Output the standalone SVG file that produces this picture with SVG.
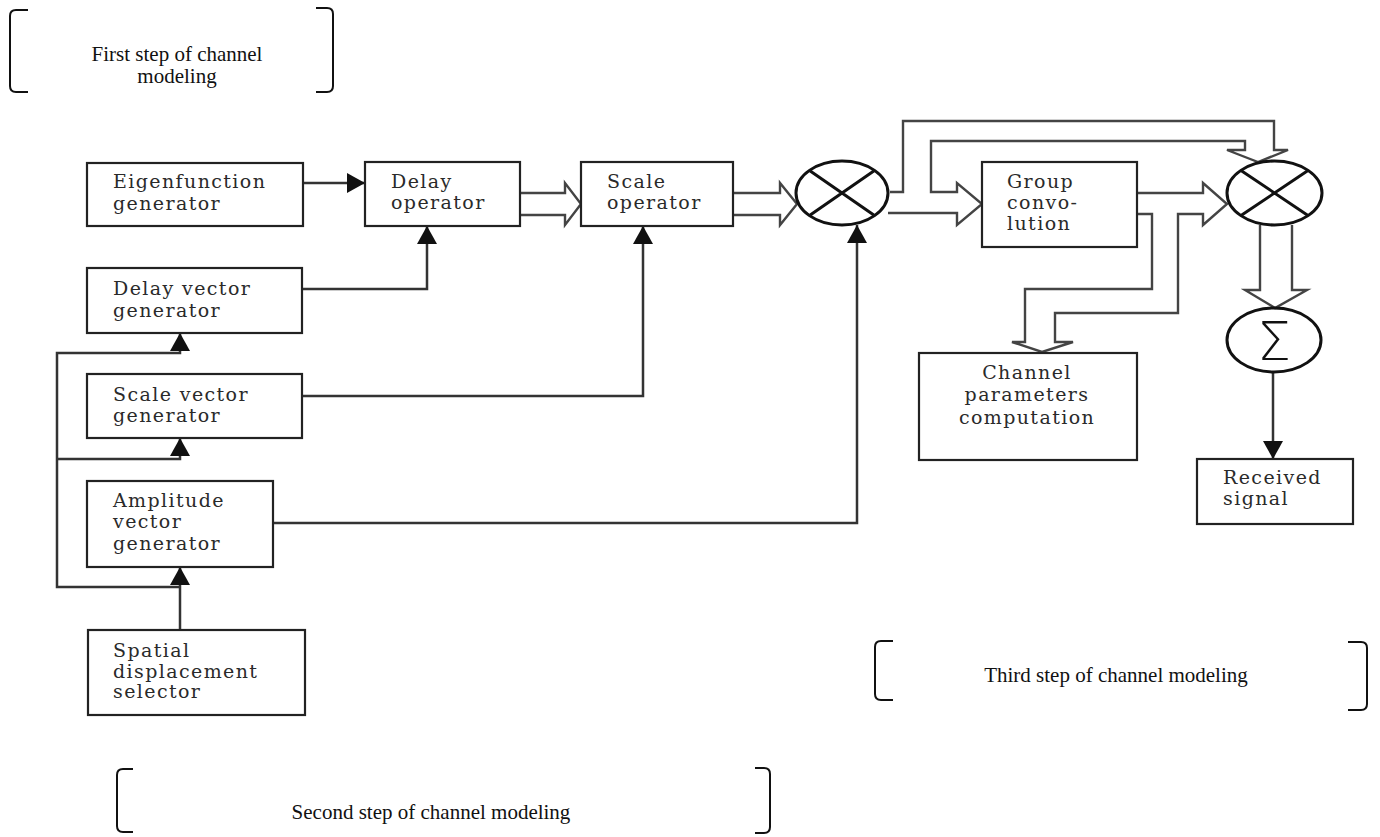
<svg xmlns="http://www.w3.org/2000/svg" width="1380" height="837" viewBox="0 0 1380 837">
<style>
.box{fill:#fff;stroke:#222;stroke-width:2.2}
.lbl{font-family:"DejaVu Serif",serif;font-size:19px;letter-spacing:1.4px;fill:#2a2a2a}
.cap{font-family:"Liberation Serif","Times New Roman",serif;font-size:21px;fill:#111}
.line{fill:none;stroke:#333;stroke-width:2.5}
.hollow{fill:none;stroke:#444;stroke-width:2.4;stroke-linejoin:miter}
.op{fill:none;stroke:#111;stroke-width:3}
.brk{fill:none;stroke:#111;stroke-width:2}
</style>
<defs>
<marker id="ah" viewBox="0 0 18 20" refX="18" refY="10" markerWidth="18" markerHeight="20" markerUnits="userSpaceOnUse" orient="auto">
<path d="M0,0 L18,10 L0,20 z" fill="#111"/>
</marker>
</defs>

<g id="brackets">
<g id="step1">
<path class="brk" d="M28,10 H16 Q10,10 10,16 V86 Q10,92 16,92 H28"/>
<path class="brk" d="M316,8 H327 Q333,8 333,14 V86 Q333,92 327,92 H316"/>
<text class="cap" x="177" y="61" text-anchor="middle">First step of channel</text>
<text class="cap" x="177" y="83" text-anchor="middle">modeling</text>
</g>
<g id="step2">
<path class="brk" d="M133,769 H123 Q117,769 117,775 V826 Q117,832 123,832 H133"/>
<path class="brk" d="M755,768 H764 Q770,768 770,774 V827 Q770,833 764,833 H755"/>
<text class="cap" x="431" y="819" text-anchor="middle">Second step of channel modeling</text>
</g>
<g id="step3">
<path class="brk" d="M893,641 H881 Q875,641 875,647 V694 Q875,700 881,700 H893"/>
<path class="brk" d="M1348,642 H1361 Q1367,642 1367,648 V704 Q1367,710 1361,710 H1348"/>
<text class="cap" x="1116" y="682" text-anchor="middle">Third step of channel modeling</text>
</g>
</g>

<g id="connectors">
<path class="line" d="M303,183 H365" marker-end="url(#ah)"/>
<path class="line" d="M302,289 H427 V226" marker-end="url(#ah)"/>
<path class="line" d="M302,396 H643 V226" marker-end="url(#ah)"/>
<path class="line" d="M273,523 H857 V225" marker-end="url(#ah)"/>
<path class="line" d="M180,630 V567" marker-end="url(#ah)"/>
<path class="line" d="M180,587 H57 V353 H180 V333" marker-end="url(#ah)"/>
<path class="line" d="M57,459 H180 V438" marker-end="url(#ah)"/>
<path class="line" d="M1273,372 V459" marker-end="url(#ah)"/>
<path class="hollow" d="M520,193 H565 V183 L581,204 L565,225 V215 H520"/>
<path class="hollow" d="M733,193 H780 V183 L797,204 L780,225 V215 H733"/>
<path class="hollow" d="M888,213 H957 V225 L982,204 L957,183 V192 H931 V141 H1245 V150 H1227 L1258,162 L1288,150 H1274 V121 H903 V192 H890"/>
<path class="hollow" d="M1137,193 H1203 V183 L1227,204 L1203,225 V214 H1178 V313 H1055 V342 H1073 L1042,352 L1012,342 H1025 V289 H1152 V214 H1137"/>
<path class="hollow" d="M1260,225 V290 H1245 L1275,308 L1307,290 H1292 V225"/>
</g>

<g id="eigen">
<rect class="box" x="87" y="163" width="216" height="63"/>
<text class="lbl" x="113" y="188">Eigenfunction</text>
<text class="lbl" x="113" y="210">generator</text>
</g>
<g id="delayop">
<rect class="box" x="365" y="162" width="155" height="64"/>
<text class="lbl" x="391" y="188">Delay</text>
<text class="lbl" x="391" y="209">operator</text>
</g>
<g id="scaleop">
<rect class="box" x="581" y="162" width="152" height="64"/>
<text class="lbl" x="607" y="188">Scale</text>
<text class="lbl" x="607" y="209">operator</text>
</g>
<g id="delayvec">
<rect class="box" x="87" y="268" width="215" height="65"/>
<text class="lbl" x="113" y="295">Delay vector</text>
<text class="lbl" x="113" y="317">generator</text>
</g>
<g id="scalevec">
<rect class="box" x="87" y="374" width="215" height="64"/>
<text class="lbl" x="113" y="401">Scale vector</text>
<text class="lbl" x="113" y="422">generator</text>
</g>
<g id="ampvec">
<rect class="box" x="87" y="481" width="186" height="86"/>
<text class="lbl" x="113" y="507">Amplitude</text>
<text class="lbl" x="113" y="528">vector</text>
<text class="lbl" x="113" y="550">generator</text>
</g>
<g id="spatial">
<rect class="box" x="88" y="630" width="217" height="85"/>
<text class="lbl" x="113" y="657">Spatial</text>
<text class="lbl" x="113" y="678">displacement</text>
<text class="lbl" x="113" y="698">selector</text>
</g>
<g id="mult1">
<ellipse class="op" cx="842" cy="193" rx="46" ry="32"/>
<path class="op" d="M809.5,170.4 L874.5,215.6 M874.5,170.4 L809.5,215.6"/>
</g>
<g id="groupconv">
<rect class="box" x="982" y="162" width="155" height="85"/>
<text class="lbl" x="1007" y="188">Group</text>
<text class="lbl" x="1007" y="209">convo-</text>
<text class="lbl" x="1007" y="230">lution</text>
</g>
<g id="mult2">
<ellipse class="op" cx="1274.5" cy="193" rx="47.5" ry="32"/>
<path class="op" d="M1241,170.4 L1308,215.6 M1308,170.4 L1241,215.6"/>
</g>
<g id="channelparams">
<rect class="box" x="919" y="353" width="218" height="107"/>
<text class="lbl" x="1027" y="379" text-anchor="middle">Channel</text>
<text class="lbl" x="1027" y="401" text-anchor="middle">parameters</text>
<text class="lbl" x="1027" y="424" text-anchor="middle">computation</text>
</g>
<g id="sum">
<ellipse class="op" cx="1274" cy="340" rx="47" ry="32"/>
<text x="1274" y="360" text-anchor="middle" style="font-family:'DejaVu Sans',sans-serif;font-size:54px;font-weight:300;fill:#111">Σ</text>
</g>
<g id="received">
<rect class="box" x="1197" y="459" width="156" height="65"/>
<text class="lbl" x="1223" y="484">Received</text>
<text class="lbl" x="1223" y="505">signal</text>
</g>
</svg>
